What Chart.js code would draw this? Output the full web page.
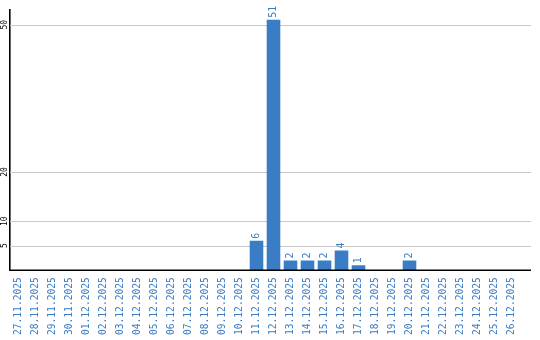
<!DOCTYPE html>
<html>
<head>
<meta charset="utf-8">
<script src="https://cdn.jsdelivr.net/npm/chart.js@4/dist/chart.umd.min.js"></script>
<style>
  html, body { margin: 0; padding: 0; background: #fff; }
  #wrap { width: 540px; height: 340px; }
</style>
</head>
<body>
<div id="wrap"><canvas id="chart" width="540" height="340"></canvas></div>
<script>
const days = [
  '27.11.2025', '28.11.2025', '29.11.2025', '30.11.2025', '01.12.2025',
  '02.12.2025', '03.12.2025', '04.12.2025', '05.12.2025', '06.12.2025',
  '07.12.2025', '08.12.2025', '09.12.2025', '10.12.2025', '11.12.2025',
  '12.12.2025', '13.12.2025', '14.12.2025', '15.12.2025', '16.12.2025',
  '17.12.2025', '18.12.2025', '19.12.2025', '20.12.2025', '21.12.2025',
  '22.12.2025', '23.12.2025', '24.12.2025', '25.12.2025', '26.12.2025'
];
const counts = [
  0, 0, 0, 0, 0, 0, 0, 0, 0, 0, 0, 0, 0, 0, 6,
  51, 2, 2, 2, 4, 1, 0, 0, 2, 0, 0, 0, 0, 0, 0
];
const yTicks = [5, 10, 20, 50];

const BLUE = '#3b7dc4';
const MONO = '"DejaVu Sans Mono", "Liberation Mono", monospace';
const EXTRA_RIGHT = 11; // grid + baseline run a bit past the last category

// horizontal gridlines, drawn under the bars
const gridLines = {
  id: 'gridLines',
  beforeDatasetsDraw(chart) {
    const ctx = chart.ctx;
    const { left, right } = chart.chartArea;
    const y = chart.scales.y;
    ctx.save();
    ctx.strokeStyle = '#c8c8c8';
    ctx.lineWidth = 1;
    yTicks.forEach(v => {
      const py = Math.round(y.getPixelForValue(v)) + 0.5;
      ctx.beginPath();
      ctx.moveTo(left, py);
      ctx.lineTo(right + EXTRA_RIGHT, py);
      ctx.stroke();
    });
    ctx.restore();
  },
  afterDatasetsDraw(chart) {
    const ctx = chart.ctx;
    const { left, right } = chart.chartArea;
    const py = chart.scales.y.getPixelForValue(0);
    ctx.save();
    ctx.strokeStyle = '#000';
    ctx.lineWidth = 1.6;
    ctx.beginPath();
    ctx.moveTo(left, py);
    ctx.lineTo(right + EXTRA_RIGHT, py);
    ctx.stroke();
    ctx.restore();
  }
};

// value labels above bars, rotated
const barLabels = {
  id: 'barLabels',
  afterDatasetsDraw(chart) {
    const ctx = chart.ctx;
    const meta = chart.getDatasetMeta(0);
    ctx.save();
    ctx.font = '10px ' + MONO;
    ctx.fillStyle = BLUE;
    ctx.textAlign = 'left';
    ctx.textBaseline = 'middle';
    meta.data.forEach((bar, i) => {
      const v = counts[i];
      if (!v) return;
      ctx.save();
      ctx.translate(bar.x, bar.y - 2);
      ctx.rotate(-Math.PI / 2);
      ctx.fillText(String(v), 0, 0);
      ctx.restore();
    });
    ctx.restore();
  }
};

// y tick labels, rotated
const yLabels = {
  id: 'yLabels',
  afterDraw(chart) {
    const ctx = chart.ctx;
    const y = chart.scales.y;
    ctx.save();
    ctx.font = '8px ' + MONO;
    ctx.fillStyle = '#000';
    ctx.textAlign = 'center';
    ctx.textBaseline = 'middle';
    yTicks.forEach(v => {
      ctx.save();
      ctx.translate(y.left - 5, y.getPixelForValue(v));
      ctx.rotate(-Math.PI / 2);
      ctx.fillText(String(v), 0, 0);
      ctx.restore();
    });
    ctx.restore();
  }
};

new Chart(document.getElementById('chart'), {
  type: 'bar',
  data: {
    labels: days,
    datasets: [{
      data: counts,
      backgroundColor: BLUE,
      barPercentage: 0.8,
      categoryPercentage: 1.0,
    }],
  },
  options: {
    responsive: false,
    animation: false,
    layout: { padding: { left: 10, right: 20, top: 10, bottom: -2 } },
    plugins: {
      legend: { display: false },
      tooltip: { enabled: false },
    },
    scales: {
      x: {
        grid: { display: false, drawTicks: false },
        border: { display: false },
        ticks: {
          color: BLUE,
          font: { family: MONO, size: 9.6 },
          minRotation: 90,
          maxRotation: 90,
          autoSkip: false,
          padding: 7,
        },
      },
      y: {
        min: 0,
        max: 53,
        afterBuildTicks(scale) {
          scale.ticks = yTicks.map(v => ({ value: v }));
        },
        grid: { display: false, drawTicks: false },
        border: { color: '#000', width: 1.6 },
        ticks: { display: false },
      },
    },
  },
  plugins: [gridLines, barLabels, yLabels],
});
</script>
</body>
</html>
